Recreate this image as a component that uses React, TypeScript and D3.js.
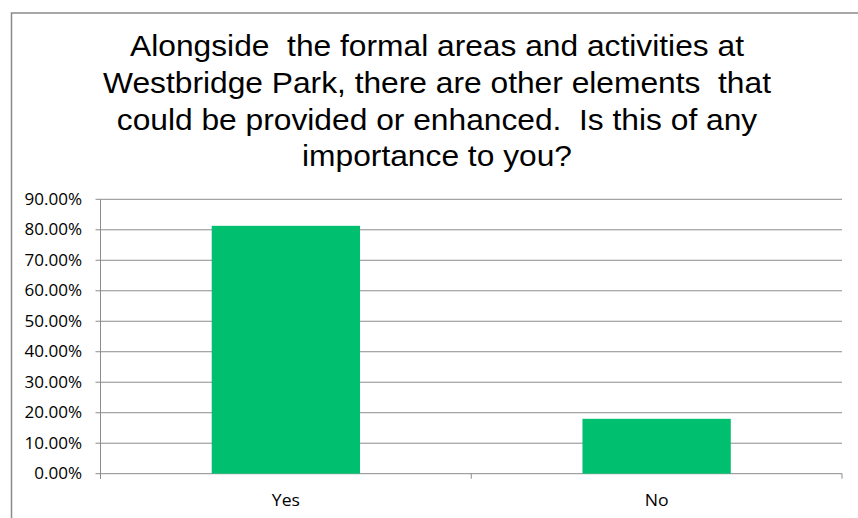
import React from "react";
import * as d3 from "d3";

const categories = ["Yes", "No"];
const values = [0.813, 0.18];
const yTicks = [0, 0.1, 0.2, 0.3, 0.4, 0.5, 0.6, 0.7, 0.8, 0.9];
const titleLines = [
  "Alongside  the formal areas and activities at",
  "Westbridge Park, there are other elements  that",
  "could be provided or enhanced.  Is this of any",
  "importance to you?",
];

export default function App() {
  const W = 858, H = 518;
  const left = 100.5, right = 842, top = 199.3, bottom = 473.7;
  const x = d3.scaleBand<string>().domain(categories).range([left, right]).paddingInner(0.6).paddingOuter(0.3);
  const y = d3.scaleLinear().domain([0, 0.9]).range([bottom, top]);
  const fmt = d3.format(".2%");
  const boundaries = [left, left + (right - left) / 2, right];
  const grid = "#8c8c8c";
  return (
    <svg width={W} height={H} style={{ position: "absolute", left: 0, top: 0, background: "#fff" }}>
      <rect x={11.5} y={13} width={900} height={600} fill="#fff" stroke="#8a8a8a" strokeWidth={1.5} />
      <g fontFamily="'Liberation Sans', Arial, sans-serif" fontSize={29} fill="#000" textAnchor="middle">
        {titleLines.map((t, i) => (
          <text key={i} transform={`translate(437,${56 + i * 36.8}) scale(1.095,1)`} style={{ whiteSpace: "pre" }}>{t}</text>
        ))}
      </g>
      {yTicks.map((t) => (
        <g key={t}>
          <line x1={95.5} x2={right} y1={y(t)} y2={y(t)} stroke={grid} strokeWidth={1} />
          <text transform={`translate(82,${y(t)}) scale(1.1,1)`} dy="0.36em" textAnchor="end" fontFamily="'Open Sans', sans-serif" fontSize={15.5} fill="#000">{fmt(t)}</text>
        </g>
      ))}
      <line x1={left} x2={left} y1={top} y2={bottom + 5} stroke={grid} strokeWidth={1} />
      {boundaries.map((b, i) => (
        <line key={i} x1={b} x2={b} y1={bottom} y2={bottom + 5} stroke={grid} strokeWidth={1} />
      ))}
      {categories.map((c, i) => (
        <rect key={c} x={x(c)} y={y(values[i])} width={x.bandwidth()} height={bottom - y(values[i])} fill="#00bf6f" />
      ))}
      {categories.map((c) => (
        <text key={c} transform={`translate(${(x(c) as number) + x.bandwidth() / 2},500) scale(1.1,1)`} dy="0.36em" textAnchor="middle" fontFamily="'Open Sans', sans-serif" fontSize={16} fill="#000">{c}</text>
      ))}
    </svg>
  );
}
